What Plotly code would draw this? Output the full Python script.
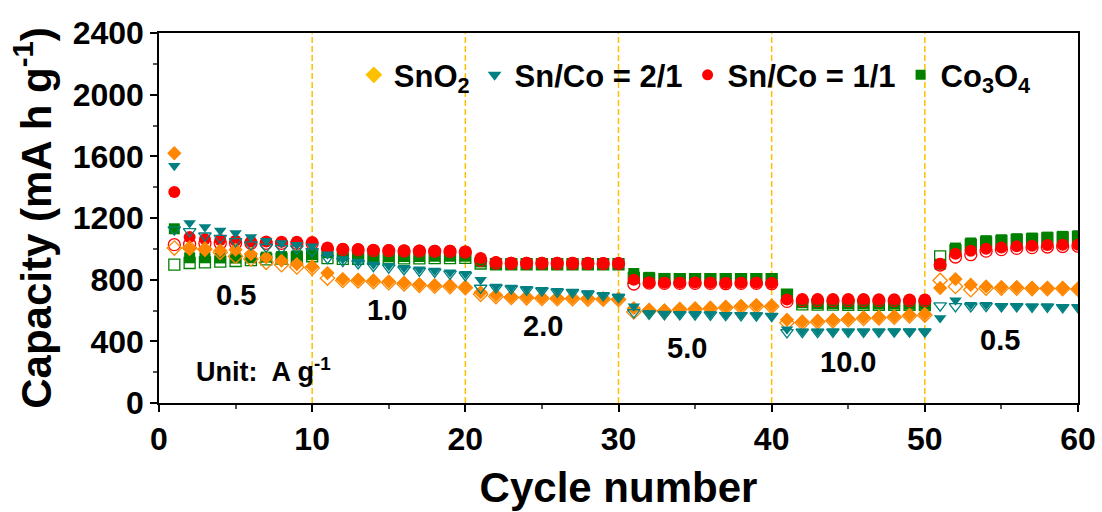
import plotly.graph_objects as go

cycles = list(range(1, 61))

# SnO2
sno2_dis = [1620, 1000, 995, 990, 994, 966, 944, 923, 901, 886,
            843, 804, 800, 795, 789, 780, 770, 764, 762, 753,
            718, 700, 690, 688, 684, 682, 682, 680, 678, 676,
            615, 605, 600, 612, 614, 618, 625, 630, 635, 632,
            540, 529, 534, 540, 547, 555, 558, 562, 572, 577,
            746, 804, 767, 756, 752, 752, 746, 746, 746, 741]
sno2_chg = [1005, 1005, 998, 977, 951, 934, 912, 897, 882, 875,
            810, 795, 792, 787, 780, 772, 763, 757, 755, 748,
            705, 690, 684, 682, 678, 676, 676, 674, 673, 671,
            590, 598, 595, 605, 608, 612, 618, 622, 627, 625,
            520, 520, 526, 533, 540, 548, 552, 556, 565, 570,
            795, 756, 735, 745, 745, 745, 742, 742, 742, 738]
# Sn/Co = 2/1
snco21_dis = [1539, 1167, 1141, 1119, 1102, 1076, 1052, 1038, 1027, 1016,
              965, 934, 918, 900, 890, 877, 868, 860, 848, 838,
              800, 756, 750, 741, 735, 728, 724, 713, 702, 691,
              627, 584, 580, 579, 578, 577, 573, 572, 571, 566,
              478, 465, 465, 465, 465, 465, 465, 465, 466, 466,
              551, 666, 638, 638, 631, 631, 627, 627, 622, 622]
snco21_chg = [1124, 1113, 1085, 1070, 1048, 1027, 1012, 1005, 1001, 983,
              940, 920, 905, 888, 878, 866, 857, 850, 838, 828,
              746, 748, 742, 734, 728, 721, 717, 707, 697, 686,
              588, 578, 575, 574, 573, 572, 569, 568, 567, 563,
              458, 460, 460, 461, 461, 461, 461, 462, 462, 462,
              631, 627, 626, 628, 626, 626, 623, 623, 620, 620]
# Sn/Co = 1/1
snco11_dis = [1368, 1076, 1063, 1058, 1052, 1048, 1047, 1046, 1046, 1045,
              1009, 1001, 999, 994, 993, 990, 989, 988, 987, 983,
              940, 915, 910, 910, 910, 909, 909, 908, 908, 908,
              800, 782, 780, 780, 781, 780, 778, 780, 780, 778,
              672, 675, 674, 674, 674, 674, 673, 673, 672, 672,
              903, 968, 988, 1001, 1009, 1016, 1020, 1025, 1027, 1027]
snco11_chg = [1027, 1030, 1035, 1036, 1036, 1036, 1036, 1036, 1036, 1035,
              1000, 995, 993, 989, 988, 986, 985, 984, 983, 979,
              925, 908, 906, 906, 906, 905, 905, 905, 904, 904,
              772, 778, 776, 776, 776, 776, 774, 776, 776, 774,
              659, 664, 664, 664, 664, 664, 664, 664, 664, 664,
              895, 947, 962, 985, 995, 1003, 1008, 1012, 1015, 1017]
# Co3O4
co3o4_dis = [1130, 942, 942, 941, 940, 942, 946, 950, 955, 962,
             975, 955, 950, 948, 948, 950, 950, 952, 952, 952,
             915, 905, 905, 905, 905, 905, 905, 905, 904, 904,
             840, 815, 808, 806, 806, 806, 806, 805, 805, 805,
             700, 650, 645, 645, 643, 643, 642, 642, 641, 640,
             900, 1005, 1038, 1053, 1059, 1066, 1070, 1076, 1081, 1085]
co3o4_chg = [897, 908, 912, 917, 921, 927, 931, 936, 944, 952,
             940, 935, 935, 935, 936, 938, 938, 940, 940, 941,
             905, 900, 900, 900, 900, 900, 900, 900, 900, 900,
             812, 806, 804, 803, 803, 803, 803, 803, 803, 803,
             702, 640, 638, 638, 637, 637, 636, 636, 636, 635,
             951, 990, 1025, 1042, 1050, 1057, 1062, 1068, 1073, 1076]

series_names = ["SnO<sub>2</sub>", "Sn/Co = 2/1", "Sn/Co = 1/1", "Co<sub>3</sub>O<sub>4</sub>"]

rate_boundaries = [10, 20, 30, 40, 50]
rate_labels = ["0.5", "1.0", "2.0", "5.0", "10.0", "0.5"]
rate_label_x = [5.0, 14.9, 25.1, 34.5, 45.0, 54.9]
rate_label_y = [700, 603, 500, 357, 266, 408]

FONT = "Liberation Sans, Arial, sans-serif"
ORANGE = "#FF8600"
GOLD = "#FFC000"
TEAL = "#008080"
RED = "#FF0000"
GREEN = "#008000"

fig = go.Figure()

def add_pair(dis, chg, color, sym, size):
    fig.add_trace(go.Scatter(x=cycles, y=dis, mode="markers", showlegend=False,
                             marker=dict(symbol=sym, size=size, color=color, line=dict(width=0))))
    fig.add_trace(go.Scatter(x=cycles, y=chg, mode="markers", showlegend=False,
                             marker=dict(symbol=sym + "-open", size=size, color=color,
                                         line=dict(width=1.3, color=color))))

add_pair(co3o4_dis, co3o4_chg, GREEN, "square", 11)
add_pair(snco11_dis, snco11_chg, RED, "circle", 12)
add_pair(sno2_dis, sno2_chg, ORANGE, "diamond", 11)
add_pair(snco21_dis, snco21_chg, TEAL, "triangle-down", 11)

# legend entries
legend_specs = [(series_names[0], GOLD, "diamond", 13),
                (series_names[1], TEAL, "triangle-down", 12),
                (series_names[2], RED, "circle", 11),
                (series_names[3], GREEN, "square", 10)]
for name, col, sym, sz in legend_specs:
    fig.add_trace(go.Scatter(x=[None], y=[None], mode="markers", name=name,
                             marker=dict(symbol=sym, size=sz, color=col)))

for b in rate_boundaries:
    fig.add_vline(x=b, line=dict(color=GOLD, width=1.5, dash="6px,3px"), layer="below")

for lab, lx, ly in zip(rate_labels, rate_label_x, rate_label_y):
    fig.add_annotation(x=lx, y=ly, text=lab, showarrow=False,
                       font=dict(family=FONT, size=29, color="black", weight="bold"))

fig.add_annotation(x=2.3, y=214, text="Unit:  A g<sup>-1</sup>", showarrow=False, xanchor="left",
                   font=dict(family=FONT, size=27, color="black", weight="bold"))

axis_common = dict(showline=True, linecolor="black", linewidth=1.5, mirror=True,
                   ticks="outside", ticklen=7, tickwidth=1.5, tickcolor="black",
                   showgrid=False, zeroline=False, automargin=False,
                   tickfont=dict(family=FONT, size=32, color="black", weight="bold"))

fig.update_layout(
    width=1102, height=512,
    margin=dict(l=159, r=24, t=33, b=109),
    paper_bgcolor="white", plot_bgcolor="white",
    font=dict(family=FONT, color="black"),
    xaxis=dict(range=[0, 60], dtick=10, tick0=0,
               minor=dict(dtick=5, ticklen=4, ticks="outside", tickcolor="#555", tickwidth=1.5),
               title=dict(text="Cycle number", font=dict(family=FONT, size=42, weight="bold"), standoff=16),
               **axis_common),
    yaxis=dict(range=[0, 2400], dtick=400, tick0=0,
               minor=dict(dtick=200, ticklen=4, ticks="outside", tickcolor="#555", tickwidth=1.5),
               title=dict(text="Capacity (mA h g<sup>-1</sup>)", font=dict(family=FONT, size=42, weight="bold"), standoff=8),
               **axis_common),
    legend=dict(orientation="h", x=0.212, y=0.886, xanchor="left", yanchor="middle",
                bgcolor="rgba(0,0,0,0)", font=dict(family=FONT, size=31, color="black", weight="bold")),
)

fig.write_html("out.html")
